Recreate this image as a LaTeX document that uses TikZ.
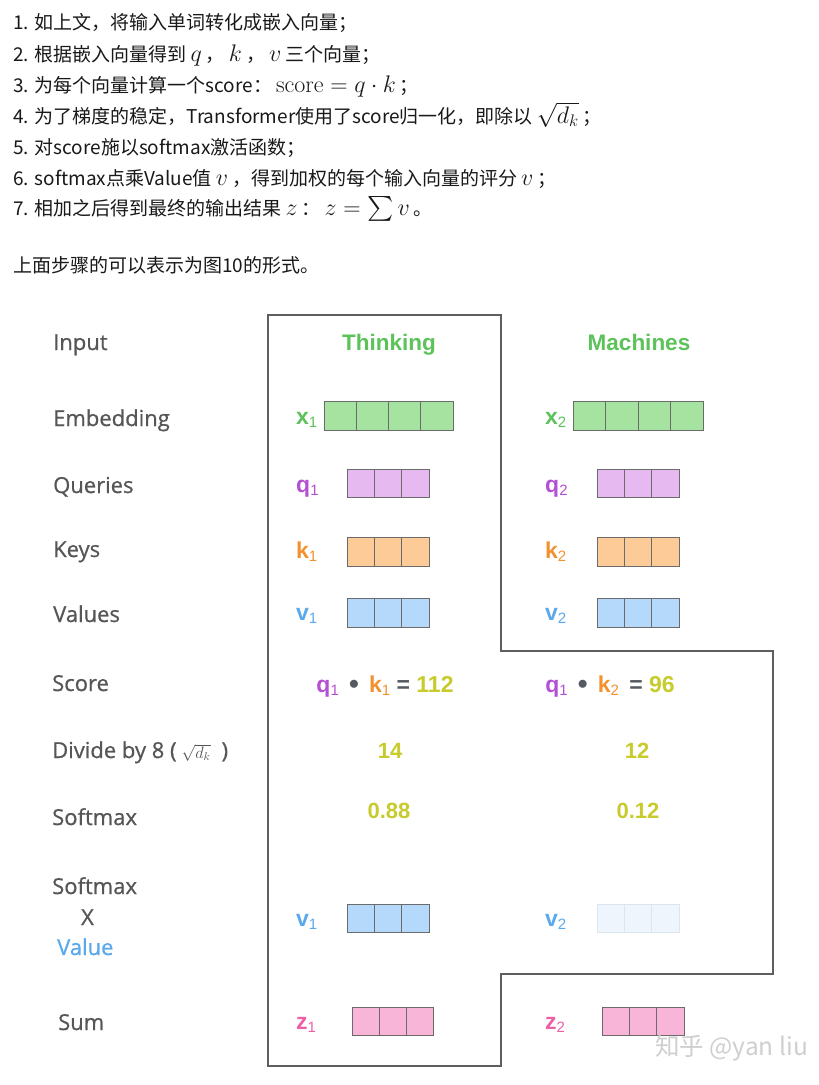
\RequirePackage{fix-cm}
\documentclass[tikz,border=0pt]{standalone}
\usepackage{exscale}
\usepackage{fontspec}
\newfontfamily\cjk{Noto Sans CJK SC}
\newfontfamily\osans{Open Sans}[FakeBold=0.7]
\newfontfamily\arial{Liberation Sans}

\definecolor{lblgray}{HTML}{565656}
\definecolor{edgegray}{HTML}{6B6B6B}
\definecolor{outlinegray}{HTML}{5E5E5E}
\definecolor{wordgreen}{HTML}{5CC25A}
\definecolor{xfill}{HTML}{A6E3A1}
\definecolor{qcol}{HTML}{B450D4}
\definecolor{qfill}{HTML}{E6BAF1}
\definecolor{kcol}{HTML}{F2922F}
\definecolor{kfill}{HTML}{FCCB98}
\definecolor{vcol}{HTML}{5AA9EC}
\definecolor{vfill}{HTML}{B5D9FB}
\definecolor{zcol}{HTML}{EE5FA5}
\definecolor{zfill}{HTML}{F9B5D7}
\definecolor{numcol}{HTML}{C8CB2C}
\definecolor{opgray}{HTML}{555B60}
\definecolor{fadefill}{HTML}{EEF5FD}
\definecolor{fadeedge}{HTML}{DCE5EE}
\definecolor{markgray}{HTML}{CFCFCF}

% math set larger than the surrounding text, with a little room on each side
\newcommand\mth[1]{\hspace{4pt}{\fontsize{24}{24}\selectfont$#1$}\hspace{4pt}}
% small subscript digit for vector labels
\newcommand\sbd[1]{\raisebox{-0.14em}{\fontsize{15}{15}\selectfont\mdseries #1}}

% a row of n square cells: name, left x, centre y, n, cell width, height, style
\newcommand\cellrow[7]{%
  \foreach \i in {1,...,#4}{%
    \node[cell, #7, minimum width=#5pt, minimum height=#6pt, anchor=west]
      (#1-\i) at ({#2+(\i-1)*#5}, #3) {};
  }}

\tikzset{
  toptext/.style={anchor=base west, inner sep=0, text=black!90,
    font=\cjk\fontsize{19}{20}\selectfont},
  lbl/.style={anchor=base west, inner sep=0, text=lblgray,
    font=\osans\fontsize{22}{22}\selectfont},
  word/.style={anchor=base, inner sep=0, text=wordgreen,
    font=\arial\bfseries\fontsize{22.5}{22.5}\selectfont},
  vlab/.style={anchor=base west, inner sep=0,
    font=\arial\bfseries\fontsize{23}{23}\selectfont},
  num/.style={anchor=base, inner sep=0, text=numcol,
    font=\arial\bfseries\fontsize{22}{22}\selectfont},
  cell/.style={draw=edgegray, line width=1pt, inner sep=0, outer sep=0},
  xcell/.style={fill=xfill},
  qcell/.style={fill=qfill},
  kcell/.style={fill=kfill},
  vcell/.style={fill=vfill},
  zcell/.style={fill=zfill},
  fadecell/.style={fill=fadefill, draw=fadeedge},
  outline/.style={draw=outlinegray, line width=1.3pt, line join=miter},
}

\begin{document}
\begin{tikzpicture}[x=1pt,y=-1pt]
\useasboundingbox[fill=white] (0,0) rectangle (819,1085);

% ---- numbered steps ----
\node[toptext] (s1) at (13,29) {1. 如上文，将输入单词转化成嵌入向量；};
\node[toptext] (s2) at (13,61) {2. 根据嵌入向量得到\mth{q}，\mth{k}，\mth{v}三个向量；};
\node[toptext] (s3) at (13,92) {3. 为每个向量计算一个score：\mth{\mathrm{score}=q\cdot k}；};
\node[toptext] (s4) at (13,123) {4. 为了梯度的稳定，Transformer使用了score归一化，即除以\mth{\sqrt{d_k}}；};
\node[toptext] (s5) at (13,154) {5. 对score施以softmax激活函数；};
\node[toptext] (s6) at (13,185) {6. softmax点乘Value值\mth{v}，得到加权的每个输入向量的评分\mth{v}；};
\node[toptext] (s7) at (13,215) {7. 相加之后得到最终的输出结果\mth{z}：\mth{z=\sum v}。};
\node[toptext] (s8) at (13,272) {上面步骤的可以表示为图10的形式。};

% ---- frame around the two columns ----
\draw[outline] (268,315) -- (501,315) -- (501,651) -- (773,651) -- (773,974)
  -- (501,974) -- (501,1066) -- (268,1066) -- cycle;

% ---- row labels ----
\node[lbl] (rInput) at (53,350) {Input};
\node[lbl] (rEmb) at (53,426) {Embedding};
\node[lbl] (rQ) at (53,493) {Queries};
\node[lbl] (rK) at (53,557) {Keys};
\node[lbl] (rV) at (53,622) {Values};
\node[lbl] (rScore) at (52,691) {Score};
\node[lbl] (rDiv) at (52,758) {Divide by 8 (\hspace{5pt}{\fontsize{16.5}{16.5}\selectfont$\sqrt{d_k}$}\hspace{11pt})};
\node[lbl] (rSm) at (52,825) {Softmax};
\node[lbl] (rSm2) at (52,894) {Softmax};
\node[lbl, anchor=base] (rX) at (87.5,925) {X};
\node[lbl, text=vcol] (rVal) at (57,955) {Value};
\node[lbl] (rSum) at (58,1030) {Sum};

% ---- input words ----
\node[word] (w1) at (389,350) {Thinking};
\node[word] (w2) at (639,350) {Machines};

% ---- embeddings ----
\node[vlab, text=wordgreen] (x1l) at (296,424) {x\sbd{1}};
\node[vlab, text=wordgreen] (x2l) at (545,424) {x\sbd{2}};
\cellrow{x1}{324}{415.5}{4}{32.25}{29}{xcell}
\cellrow{x2}{573}{415.5}{4}{32.5}{29}{xcell}

% ---- queries ----
\node[vlab, text=qcol] (q1l) at (296,492) {q\sbd{1}};
\node[vlab, text=qcol] (q2l) at (545,492) {q\sbd{2}};
\cellrow{q1}{347}{483.5}{3}{27.4}{28}{qcell}
\cellrow{q2}{597}{483.5}{3}{27.4}{28}{qcell}

% ---- keys ----
\node[vlab, text=kcol] (k1l) at (296,558) {k\sbd{1}};
\node[vlab, text=kcol] (k2l) at (545,558) {k\sbd{2}};
\cellrow{k1}{347}{551.5}{3}{27.4}{29}{kcell}
\cellrow{k2}{597}{551.5}{3}{27.4}{29}{kcell}

% ---- values ----
\node[vlab, text=vcol] (v1l) at (296,620) {v\sbd{1}};
\node[vlab, text=vcol] (v2l) at (545,620) {v\sbd{2}};
\cellrow{v1}{347}{612.5}{3}{27.4}{29}{vcell}
\cellrow{v2}{597}{612.5}{3}{27.4}{29}{vcell}

% ---- scores ----
\node[vlab, anchor=base] (sc1) at (385,692)
  {\textcolor{qcol}{q\sbd{1}}\, \textcolor{opgray}{\fontsize{28}{28}\selectfont\raisebox{-0.05em}{•}}\, \textcolor{kcol}{k\sbd{1}} \textcolor{opgray}{=} \textcolor{numcol}{112}};
\node[vlab, anchor=base] (sc2) at (610,692)
  {\textcolor{qcol}{q\sbd{1}}\, \textcolor{opgray}{\fontsize{28}{28}\selectfont\raisebox{-0.05em}{•}}\, \textcolor{kcol}{k\sbd{2}}\, \textcolor{opgray}{=} \textcolor{numcol}{96}};

% ---- scaled scores and softmax ----
\node[num] (d1) at (390,758) {14};
\node[num] (d2) at (637,758) {12};
\node[num] (p1) at (389,818) {0.88};
\node[num] (p2) at (638,818) {0.12};

% ---- weighted values ----
\node[vlab, text=vcol] (wv1l) at (296,926) {v\sbd{1}};
\node[vlab, text=vcol] (wv2l) at (545,926) {v\sbd{2}};
\cellrow{wv1}{347}{918}{3}{27.4}{28}{vcell}
\cellrow{wv2}{597}{918}{3}{27.4}{28}{fadecell}

% ---- sums ----
\node[vlab, text=zcol] (z1l) at (296,1029) {z\sbd{1}};
\node[vlab, text=zcol] (z2l) at (545,1029) {z\sbd{2}};
\cellrow{z1}{352}{1021}{3}{27}{28}{zcell}
\cellrow{z2}{602}{1021}{3}{27.4}{28}{zcell}

% ---- signature ----
\node[anchor=base west, inner sep=0, text=markgray,
  font=\cjk\fontsize{24.5}{24.5}\selectfont] (sig) at (655,1055) {知乎 @yan liu};
\end{tikzpicture}
\end{document}
